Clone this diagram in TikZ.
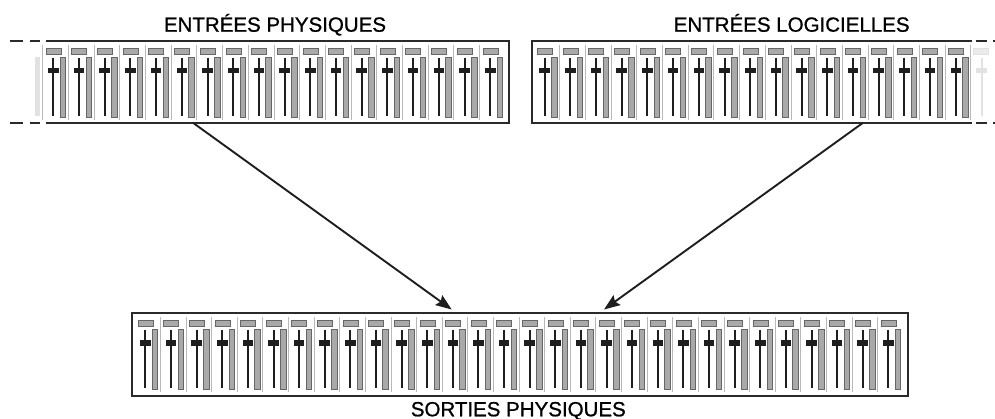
\documentclass[tikz,border=0pt]{standalone}
\usepackage{fontspec}
\setmainfont{Liberation Sans}
\newfontfamily\lblfont{Liberation Sans}[FakeBold=0.9]
\usetikzlibrary{arrows.meta}
\definecolor{sepc}{HTML}{B8B8B8}
\definecolor{stripfill}{HTML}{A9A9A9}
\definecolor{stripline}{HTML}{666666}
\definecolor{darkc}{HTML}{1E1E1E}
\definecolor{borderc}{HTML}{2A2A2A}
\definecolor{fadec}{HTML}{E2E2E2}
\tikzset{
  sepline/.style={draw=sepc, line width=1pt},
  stripbox/.style={draw=stripline, fill=stripfill, line width=0.8pt},
  faderline/.style={draw=darkc, line width=2pt},
  knobbox/.style={fill=darkc},
  meterbox/.style={draw=stripline, fill=stripfill, line width=0.8pt},
  border/.style={draw=borderc, line width=2pt},
  dashes/.style={draw=borderc, line width=2pt},
  flow/.style={draw=darkc, line width=1.9pt, -{Stealth[length=16pt,width=12pt,inset=2.5pt]}},
  label/.style={font=\lblfont\fontsize{20.5}{22}\selectfont, text=black, inner sep=0pt, anchor=base},
}
% channel strip: #1 = left x, #2 = top y of box
\newcommand\mixchan[2]{%
  \draw[stripbox] (#1+3.3,#2+7.3) rectangle (#1+18.3,#2+13);
  \draw[faderline] (#1+10.6,#2+17) -- (#1+10.6,#2+75);
  \fill[knobbox] (#1+5.3,#2+26.8) rectangle (#1+15.9,#2+32.4);
  \draw[meterbox] (#1+17.5,#2+16.3) rectangle (#1+23,#2+76.3);
}
\newcommand\mixsep[2]{\draw[sepline] (#1,#2+4) -- (#1,#2+79);}
\begin{document}
\begin{tikzpicture}[x=1pt,y=-1pt]
\useasboundingbox (0,0) rectangle (995,419);
\fill[white] (0,0) rectangle (995,419);

% ---------- top-left box: ENTREES PHYSIQUES ----------
\foreach \k in {0,...,17}{
  \pgfmathsetmacro\s{42.7+25.7*\k}
  \mixsep{\s}{41}
  \mixchan{\s}{41}
}
% faded channel on the left
\fill[fadec] (34.5,57.5) rectangle (40,116.5);
\draw[border] (46,41) -- (509,41) -- (509,123) -- (46,123);
\draw[dashes] (10,41) -- (23,41) (29.5,41) -- (40,41);
\draw[dashes] (10,123) -- (23,123) (29.5,123) -- (40,123);

% ---------- top-right box: ENTREES LOGICIELLES ----------
\foreach \k in {0,...,16}{
  \pgfmathsetmacro\s{534+25.7*\k}
  \mixchan{\s}{41}
}
\foreach \k in {1,...,17}{
  \pgfmathsetmacro\s{534+25.7*\k}
  \mixsep{\s}{41}
}
% faded channel on the right
\draw[draw=fadec, fill=fadec!70!white, line width=0.8pt] (973.5,48.5) rectangle (988,54);
\draw[draw=fadec, line width=2pt] (981.5,58) -- (981.5,116);
\fill[fadec] (976.2,67.8) rectangle (986.8,73.4);
\draw[border] (972,41) -- (532,41) -- (532,123) -- (972,123);
\draw[dashes] (975.7,41) -- (986.7,41) (993,41) -- (995,41);
\draw[dashes] (975.7,123) -- (986.7,123) (993,123) -- (995,123);

% ---------- bottom box: SORTIES PHYSIQUES ----------
\foreach \k in {0,...,29}{
  \pgfmathsetmacro\s{134.8+25.62*\k}
  \mixchan{\s}{313.3}
}
\foreach \k in {1,...,29}{
  \pgfmathsetmacro\s{134.8+25.62*\k}
  \mixsep{\s}{313.3}
}
\draw[border] (131.7,313.3) rectangle (907.7,395.5);

% ---------- labels ----------
\node[label] (lphys) at (275,31.7) {ENTRÉES PHYSIQUES};
\node[label] (llog) at (791.7,31.7) {ENTRÉES LOGICIELLES};
\node[label] (lout) at (518.3,416.3) {SORTIES PHYSIQUES};

% ---------- arrows ----------
\coordinate (physout) at (193.3,123);
\coordinate (logout) at (862.7,123);
\coordinate (outinA) at (451.7,309.5);
\coordinate (outinB) at (604,309.5);
\draw[flow] (physout) -- (outinA);
\draw[flow] (logout) -- (outinB);
\end{tikzpicture}
\end{document}
